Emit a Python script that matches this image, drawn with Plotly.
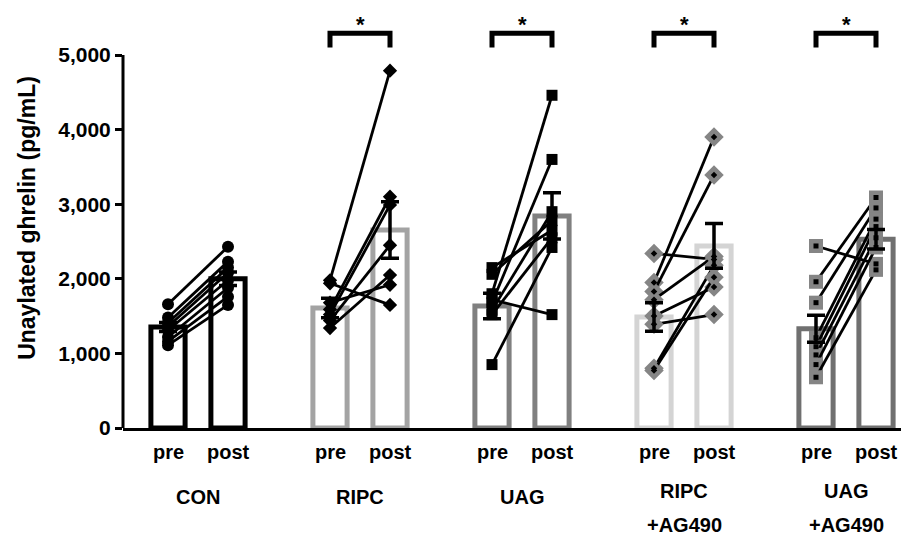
import plotly.graph_objects as go

# ---------------- data ----------------
group_names = ["CON", "RIPC", "UAG", "RIPC +AG490", "UAG +AG490"]
group_label_lines = [["CON"], ["RIPC"], ["UAG"], ["RIPC", "+AG490"], ["UAG", "+AG490"]]
phase_labels = ["pre", "post"]

bar_means = [
    [1354, 2000],
    [1608, 2654],
    [1635, 2842],
    [1488, 2440],
    [1330, 2530],
]
bar_sem = [
    [60, 90],
    [130, 380],
    [170, 310],
    [190, 300],
    [180, 130],
]

con_pre = [1660, 1480, 1410, 1360, 1310, 1220, 1160, 1110]
con_post = [2430, 2230, 2150, 2080, 1980, 1880, 1760, 1650]

ripc_pre = [1980, 1940, 1680, 1590, 1520, 1440, 1340]
ripc_post = [4790, 1650, 1920, 3100, 2990, 2450, 2050]

uag_pre = [2150, 2060, 1800, 1720, 1680, 1580, 1520, 850]
uag_post = [2650, 2780, 4460, 1520, 3600, 2900, 2550, 2420]

ripc_ag_pre = [2340, 1950, 1830, 1720, 1500, 1390, 800, 770]
ripc_ag_post = [2260, 3900, 3390, 2300, 1890, 1520, 2180, 2020]

uag_ag_pre = [2440, 1960, 1680, 1210, 1090, 980, 850, 680]
uag_ag_post = [2200, 3090, 2950, 2800, 2700, 2550, 2420, 2120]

subject_pre = [con_pre, ripc_pre, uag_pre, ripc_ag_pre, uag_ag_pre]
subject_post = [con_post, ripc_post, uag_post, ripc_ag_post, uag_ag_post]

significant = [False, True, True, True, True]

y_tick_vals = [0, 1000, 2000, 3000, 4000, 5000]
y_tick_text = ["0", "1,000", "2,000", "3,000", "4,000", "5,000"]

# ---------------- styles ----------------
bar_colors = ["#000000", "#a3a3a3", "#808080", "#d4d4d4", "#707070"]
marker_symbols = ["circle", "diamond", "square", "diamond", "square"]
marker_fill = ["#000000", "#000000", "#000000", "#858585", "#858585"]
marker_sizes = [12, 11, 11, 15, 14]
inner_dot = [False, False, False, True, True]

GROUP_STEP = 2.7
FONT = "Liberation Sans, Arial, sans-serif"
LABEL_SIZE = 20

fig = go.Figure()

for g in range(len(group_names)):
    xs = [GROUP_STEP * g, GROUP_STEP * g + 1]
    fig.add_trace(go.Bar(
        x=xs, y=bar_means[g], width=0.57,
        marker=dict(color="white", line=dict(color=bar_colors[g], width=5)),
        showlegend=False, hoverinfo="skip",
    ))

for g in range(len(group_names)):
    xs = [GROUP_STEP * g, GROUP_STEP * g + 1]
    pre = subject_pre[g]
    post = subject_post[g]
    for a, b in zip(pre, post):
        fig.add_trace(go.Scatter(
            x=xs, y=[a, b], mode="lines+markers",
            line=dict(color="black", width=2.8),
            marker=dict(symbol=marker_symbols[g], size=marker_sizes[g],
                        color=marker_fill[g], line=dict(width=0)),
            showlegend=False, hoverinfo="skip", cliponaxis=False,
        ))
    if inner_dot[g]:
        fig.add_trace(go.Scatter(
            x=[xs[0]] * len(pre) + [xs[1]] * len(post), y=list(pre) + list(post),
            mode="markers",
            marker=dict(symbol=marker_symbols[g], size=5, color="black"),
            showlegend=False, hoverinfo="skip",
        ))

for g in range(len(group_names)):
    xs = [GROUP_STEP * g, GROUP_STEP * g + 1]
    fig.add_trace(go.Scatter(
        x=xs, y=bar_means[g], mode="markers",
        marker=dict(size=1, color="rgba(0,0,0,0)"),
        error_y=dict(type="data", array=bar_sem[g], color="black", thickness=3.5, width=9),
        showlegend=False, hoverinfo="skip",
    ))

# significance brackets
PLOT_H = 420.0
for g in range(len(group_names)):
    if not significant[g]:
        continue
    x0 = GROUP_STEP * g
    x1 = GROUP_STEP * g + 1
    fig.add_trace(go.Scatter(
        x=[x0, x0, x1, x1], y=[5100, 5290, 5290, 5100], mode="lines",
        line=dict(color="black", width=5), showlegend=False, hoverinfo="skip",
        cliponaxis=False,
    ))
    fig.add_annotation(x=(x0 + x1) / 2, xref="x", y=1 - 2 / PLOT_H, yref="paper",
                       yanchor="top", text="<b>*</b>", showarrow=False,
                       font=dict(size=22, color="black", family=FONT))

# x labels (placed in paper coordinates below the axis)
for g in range(len(group_names)):
    for k, lab in enumerate(phase_labels):
        fig.add_annotation(x=GROUP_STEP * g + k, xref="x", y=-24 / PLOT_H, yref="paper",
                           yanchor="middle", text="<b>%s</b>" % lab, showarrow=False,
                           font=dict(size=LABEL_SIZE, color="black", family=FONT))
    lines = group_label_lines[g]
    if len(lines) == 1:
        offs = [69]
    else:
        offs = [63, 97]
    for off, t in zip(offs, lines):
        fig.add_annotation(x=GROUP_STEP * g + 0.5, xref="x", y=-off / PLOT_H, yref="paper",
                           yanchor="middle", text="<b>%s</b>" % t, showarrow=False,
                           font=dict(size=LABEL_SIZE, color="black", family=FONT))

# y-axis line (only up to 5000)
fig.add_shape(type="line", xref="paper", yref="y", x0=0, x1=0, y0=0, y1=5000,
              line=dict(color="black", width=3))

fig.update_layout(
    width=901, height=529,
    margin=dict(l=115, r=0, t=0, b=109),
    plot_bgcolor="white", paper_bgcolor="white",
    barmode="overlay",
    font=dict(family=FONT, color="black"),
    xaxis=dict(range=[-0.75, 12.35], showticklabels=False, ticks="",
               showgrid=False, zeroline=False, showline=True,
               linecolor="black", linewidth=3),
    yaxis=dict(range=[0, 5630], tickvals=y_tick_vals, ticktext=["<b>%s</b>" % t for t in y_tick_text],
               ticks="outside", ticklen=7, tickwidth=3, tickcolor="black",
               tickfont=dict(size=21, family=FONT, color="black"),
               showgrid=False, zeroline=False, showline=False,
               title=dict(text="<b>Unaylated ghrelin (pg/mL)</b>",
                          font=dict(size=23, family=FONT, color="black"), standoff=16)),
)

fig.write_html("out.html")
